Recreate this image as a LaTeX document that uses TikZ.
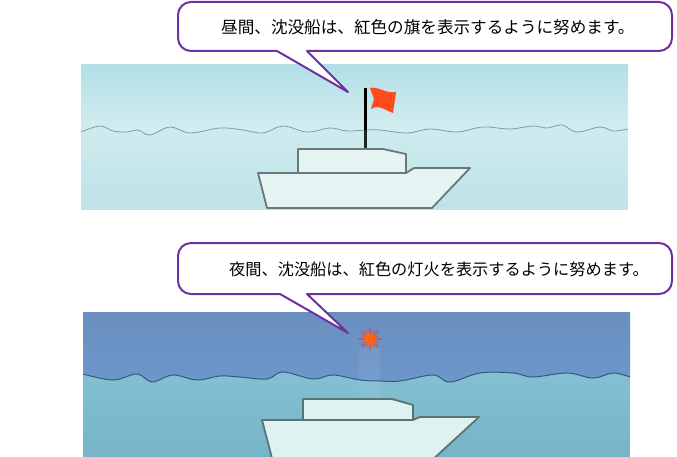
\documentclass[tikz,border=0pt]{standalone}
\usepackage{fontspec}
\newfontfamily\jpfont{Noto Sans CJK JP}
\definecolor{bubbleline}{HTML}{7030A0}
\definecolor{daySkyTop}{HTML}{B3DFE6}
\definecolor{daySkyLow}{HTML}{D6EEF1}
\definecolor{daySeaTop}{HTML}{CFEBEE}
\definecolor{daySeaLow}{HTML}{BEE3E8}
\definecolor{dayWave}{HTML}{7E9CA2}
\definecolor{hullFill}{HTML}{E5F4F2}
\definecolor{hullLine}{HTML}{687878}
\definecolor{flagRed}{HTML}{FF4A1C}
\definecolor{nightSkyTop}{HTML}{6A8FBF}
\definecolor{nightSkyLow}{HTML}{6D97CB}
\definecolor{nightSeaTop}{HTML}{82C0D2}
\definecolor{nightSeaLow}{HTML}{78B4C8}
\definecolor{nightWave}{HTML}{34587E}
\definecolor{nightHull}{HTML}{DFF2F2}
\definecolor{nightHullLine}{HTML}{5A7474}
\definecolor{lampCore}{HTML}{FF6410}
\definecolor{lampRay}{HTML}{D0504C}
\begin{document}
\begin{tikzpicture}[x=1pt,y=-1pt,
  bubble/.style={draw=bubbleline,line width=2pt,fill=white,line join=round},
  caption/.style={font=\jpfont\fontsize{16.6pt}{18pt}\selectfont,anchor=west,inner sep=0pt},
  dayboat/.style={draw=hullLine,fill=hullFill,line width=1.8pt,line join=round},
  nightboat/.style={draw=nightHullLine,fill=nightHull,line width=1.8pt,line join=round}]
\useasboundingbox (0,0) rectangle (677,457);

% ---------- daytime scene ----------
\shade[top color=daySkyTop,bottom color=daySkyLow] (81,65) rectangle (628,137);
\shade[top color=daySeaTop,bottom color=daySeaLow]
  plot[smooth,tension=0.6] coordinates {(81,132) (100,126) (113,131) (127,132) (138,130) (150,135) (170,127) (190,133) (220,128) (243,130) (263,133) (283,126) (307,132) (330,128) (347,131) (367,130) (380,130) (407,133) (430,129) (457,132) (483,127) (510,129) (533,126) (547,128) (562,125) (577,132) (600,127) (613,131) (628,129)}
  -- (628,210) -- (81,210) -- cycle;
\draw[dayWave,line width=0.8pt]
  plot[smooth,tension=0.6] coordinates {(81,132) (100,126) (113,131) (127,132) (138,130) (150,135) (170,127) (190,133) (220,128) (243,130) (263,133) (283,126) (307,132) (330,128) (347,131) (367,130) (380,130) (407,133) (430,129) (457,132) (483,127) (510,129) (533,126) (547,128) (562,125) (577,132) (600,127) (613,131) (628,129)};

% mast and flag
\coordinate (mastTop) at (365,88);
\coordinate (mastWave) at (365,130);
\coordinate (mastFoot) at (365,150);
\draw[black,line width=3pt] (mastTop) -- (mastWave);
\draw[black!70!hullLine,line width=3pt] (mastWave) -- (mastFoot);
\fill[flagRed] (370,88) .. controls (378,86) and (386,94) .. (396,92)
  -- (393,113) .. controls (385,110) and (378,104) .. (371,109)
  -- (374,99) -- cycle;

% sunken ship (day)
\draw[dayboat] (298,149) -- (383,149) -- (406,154) -- (406,173) -- (298,173) -- cycle;
\draw[dayboat] (258,173) -- (406,173) -- (414,168) -- (470,168) -- (432,208) -- (267,208) -- cycle;

% day callout
\coordinate (tip1) at (348,92);
\draw[bubble] (tip1) -- (307,51) -- (659,51) arc[start angle=90,end angle=0,radius=13]
  -- (672,15) arc[start angle=0,end angle=-90,radius=13]
  -- (191,2) arc[start angle=-90,end angle=-180,radius=13]
  -- (178,38) arc[start angle=180,end angle=90,radius=13]
  -- (277,51) -- cycle;
\node[caption] (caption1) at (221,27) {昼間、沈没船は、紅色の旗を表示するように努めます。};

% ---------- night scene ----------
\begin{scope}
\clip (83,312) rectangle (630,457);
\shade[top color=nightSkyTop,bottom color=nightSkyLow] (83,312) rectangle (630,384);
\shade[top color=nightSeaTop,bottom color=nightSeaLow]
  plot[smooth,tension=0.6] coordinates {(83,374) (113,380) (137,374) (152,382) (173,375) (197,380) (220,376) (240,377) (267,379) (283,372) (313,379) (333,375) (360,380) (380,381) (400,381) (433,375) (450,382) (480,373) (513,373) (533,377) (567,373) (593,378) (613,373) (630,377)}
  -- (630,457) -- (83,457) -- cycle;
% faint beam of the lamp
\fill[white,opacity=0.06] (359,346) rectangle (380,400);
\draw[nightWave,line width=1pt]
  plot[smooth,tension=0.6] coordinates {(83,374) (113,380) (137,374) (152,382) (173,375) (197,380) (220,376) (240,377) (267,379) (283,372) (313,379) (333,375) (360,380) (380,381) (400,381) (433,375) (450,382) (480,373) (513,373) (533,377) (567,373) (593,378) (613,373) (630,377)};

% sunken ship (night)
\draw[nightboat] (303,399) -- (392,399) -- (413,405) -- (413,420) -- (303,420) -- cycle;
\draw[nightboat] (262,420) -- (413,420) -- (420,417) -- (479,417) -- (430,462) -- (273,462) -- cycle;
\end{scope}

% red lamp
\coordinate (lamp) at (370,339);
\foreach \a in {0,45,...,315}
  \draw[lampRay,line width=2.2pt,opacity=0.75,line cap=round] (lamp) ++(\a:5) -- ++(\a:6);
\foreach \a in {22.5,67.5,...,337.5}
  \draw[lampRay,line width=1.2pt,opacity=0.5,line cap=round] (lamp) ++(\a:5) -- ++(\a:4);
\fill[lampCore] (lamp) circle[radius=6];

% night callout
\coordinate (tip2) at (348,333);
\draw[bubble] (tip2) -- (307,294) -- (659,294) arc[start angle=90,end angle=0,radius=13]
  -- (672,256) arc[start angle=0,end angle=-90,radius=13]
  -- (191,243) arc[start angle=-90,end angle=-180,radius=13]
  -- (178,281) arc[start angle=180,end angle=90,radius=13]
  -- (280,294) -- cycle;
\node[caption,font=\jpfont\fontsize{16.2pt}{18pt}\selectfont] (caption2) at (229,269) {夜間、沈没船は、紅色の灯火を表示するように努めます。};
\end{tikzpicture}
\end{document}
